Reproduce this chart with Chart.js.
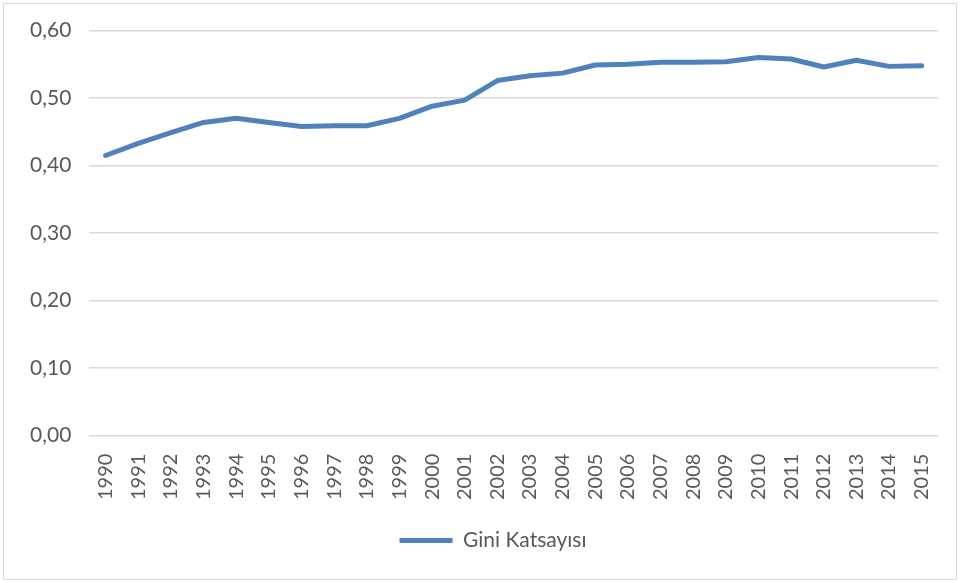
<!DOCTYPE html>
<html>
<head>
<meta charset="utf-8">
<script src="https://cdn.jsdelivr.net/npm/chart.js@4/dist/chart.umd.min.js"></script>
<style>
  html, body { margin: 0; padding: 0; background: #fff; }
  #wrap { width: 960px; height: 583px; position: relative; }
</style>
</head>
<body>
<div id="wrap"><canvas id="gini"></canvas></div>
<script>
var years = ['1990','1991','1992','1993','1994','1995','1996','1997','1998','1999','2000','2001','2002',
             '2003','2004','2005','2006','2007','2008','2009','2010','2011','2012','2013','2014','2015'];
var gini = [0.415, 0.433, 0.449, 0.464, 0.470, 0.464, 0.458, 0.459, 0.459, 0.470, 0.488, 0.497, 0.526,
            0.533, 0.537, 0.549, 0.550, 0.553, 0.553, 0.554, 0.560, 0.558, 0.546, 0.556, 0.547, 0.548];
var seriesName = 'Gini Katsayısı';

var textColor = '#595959';
var gridColor = '#d9d9d9';
var blue = '#4f81bd';
var fontSize = 21;

// frame round the whole chart, like the excel chart area
// + push the legend a bit right, excel centres it on the whole frame
var framePlugin = {
  id: 'frame',
  beforeDraw: function(chart) {
    var ctx = chart.ctx;
    ctx.save();
    ctx.strokeStyle = gridColor;
    ctx.lineWidth = 1;
    ctx.strokeRect(3.5, 3.5, chart.width - 7, chart.height - 7);
    ctx.restore();
    if (chart.legend && !chart.legend._shifted) {
      chart.legend.left += 18;
      chart.legend.right += 18;
      chart.legend._shifted = true;
    }
  }
};

var ctx = document.getElementById('gini').getContext('2d');
var chart = new Chart(ctx, {
  type: 'line',
  data: {
    labels: years,
    datasets: [{
      label: seriesName,
      data: gini,
      borderColor: blue,
      backgroundColor: blue,
      borderWidth: 5,
      borderCapStyle: 'round',
      borderJoinStyle: 'round',
      pointRadius: 0,
      pointStyle: 'line',
      tension: 0
    }]
  },
  options: {
    responsive: true,
    maintainAspectRatio: false,
    animation: false,
    layout: { padding: { left: 12, right: 22, top: 29, bottom: 22 } },
    plugins: {
      tooltip: { enabled: false },
      legend: {
        position: 'bottom',
        labels: {
          usePointStyle: true,
          pointStyleWidth: 53,
          color: textColor,
          font: { family: 'Lato', size: fontSize },
          padding: 20
        }
      }
    },
    scales: {
      x: {
        offset: true,
        grid: { display: false },
        border: { display: false },
        ticks: {
          color: textColor,
          font: { family: 'Lato', size: 20 },
          minRotation: 90,
          maxRotation: 90,
          autoSkip: false,
          padding: 10
        }
      },
      y: {
        min: 0,
        max: 0.6,
        grid: { color: gridColor, lineWidth: 1.5, drawTicks: false },
        border: { display: false },
        ticks: {
          stepSize: 0.1,
          color: textColor,
          font: { family: 'Lato', size: fontSize },
          padding: 18,
          callback: function(v) { return v.toFixed(2).replace('.', ','); }
        }
      }
    }
  },
  plugins: [framePlugin]
});
</script>
</body>
</html>
